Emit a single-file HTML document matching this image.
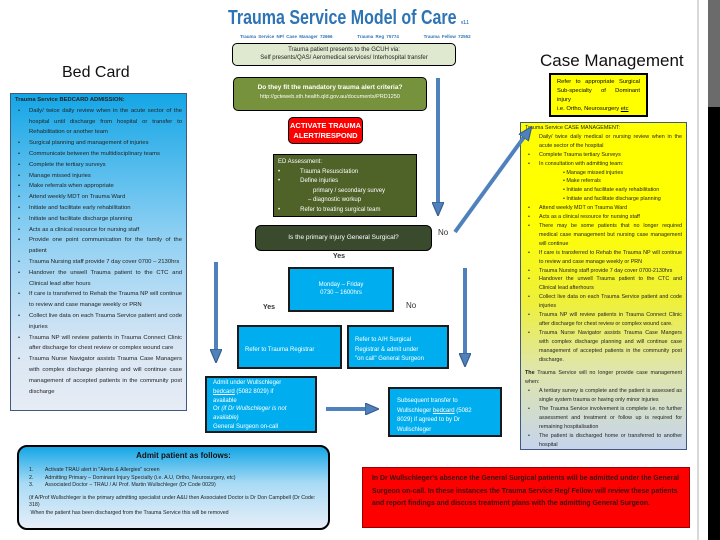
<!DOCTYPE html>
<html><head><meta charset="utf-8"><style>
*{margin:0;padding:0;box-sizing:border-box}
body{width:720px;height:540px;background:#fff;position:relative;overflow:hidden;font-family:"Liberation Sans",sans-serif}
.a{position:absolute}
.b{position:absolute;border:1.5px solid #000;font-size:6px;line-height:1.35}
.t{font-size:5.6px;line-height:8.7px;color:#222}
ul{list-style:none}
li{position:relative;padding-left:14px}
li:before{content:"•";position:absolute;left:3px}
.blue{background:#00aeef;color:#fff;border-color:#1a1a1a;border-width:2px}
</style></head><body>
<div class="a" style="left:697px;top:0;width:2px;height:540px;background:#d9d9d9"></div>
<div class="a" style="left:708px;top:0;width:12px;height:107px;background:#6b6b6b"></div>
<div class="a" style="left:708px;top:107px;width:12px;height:433px;background:#000"></div>

<div class="a" style="left:228px;top:7px;font-size:20px;font-weight:bold;color:#2e74b5;transform:scaleX(0.8);transform-origin:0 0;white-space:nowrap">Trauma Service Model of Care <span style="font-size:5px">v1.1</span></div>
<div class="a" style="left:240px;top:34px;font-size:4.5px;color:#2e74b5;font-weight:bold;word-spacing:1px">Trauma Service NP/ Case Manager 72666 &nbsp;&nbsp;&nbsp;&nbsp;&nbsp;&nbsp;&nbsp;&nbsp;&nbsp; Trauma Reg 75774 &nbsp;&nbsp;&nbsp;&nbsp;&nbsp;&nbsp;&nbsp;&nbsp;&nbsp; Trauma Fellow 72552</div>

<div class="a" style="left:62px;top:64px;font-size:16px;color:#111">Bed Card</div>
<div class="a" style="left:540px;top:51px;font-size:17px;color:#111">Case Management</div>

<div class="b" style="left:232px;top:43px;width:224px;height:23px;background:#dfe9cf;border-radius:5px;text-align:center;padding-top:2px;color:#222">Trauma patient presents to the GCUH via:<br>Self presents/QAS/ Aeromedical services/ Interhospital transfer</div>
<div class="b" style="left:233px;top:77px;width:194px;height:34px;background:#76923c;border-radius:5px;text-align:center;padding-top:6px;color:#fff;font-size:6.5px;font-weight:bold">Do they fit the mandatory trauma alert criteria?<br><span style="font-size:5.5px;font-weight:normal">http://gcteweb.sth.health.qld.gov.au/documents/PRD1250</span></div>
<div class="b" style="left:288px;top:117px;width:75px;height:27px;background:#f00;border-radius:5px;text-align:center;padding-top:3px;color:#fff;font-size:7.5px;font-weight:bold;line-height:9.5px">ACTIVATE TRAUMA<br>ALERT/RESPOND</div>
<div class="b" style="left:273px;top:154px;width:144px;height:63px;background:#4f6228;color:#fff;padding:3px 4px;font-size:6px;line-height:9.5px">ED Assessment:<br>•&nbsp;&nbsp;&nbsp;&nbsp;&nbsp;&nbsp;&nbsp;&nbsp;&nbsp;&nbsp;&nbsp; Trauma Resuscitation<br>•&nbsp;&nbsp;&nbsp;&nbsp;&nbsp;&nbsp;&nbsp;&nbsp;&nbsp;&nbsp;&nbsp; Define injuries<br>&nbsp;&nbsp;&nbsp;&nbsp;&nbsp;&nbsp;&nbsp;&nbsp;&nbsp;&nbsp;&nbsp;&nbsp;&nbsp;&nbsp;&nbsp;&nbsp;&nbsp;&nbsp;&nbsp;&nbsp; primary / secondary survey<br>&nbsp;&nbsp;&nbsp;&nbsp;&nbsp;&nbsp;&nbsp;&nbsp;&nbsp;&nbsp;&nbsp;&nbsp;&nbsp;&nbsp;&nbsp;&nbsp;&nbsp; – diagnostic workup<br>•&nbsp;&nbsp;&nbsp;&nbsp;&nbsp;&nbsp;&nbsp;&nbsp;&nbsp;&nbsp;&nbsp; Refer to treating surgical team</div>
<div class="b" style="left:255px;top:225px;width:177px;height:26px;background:#3a4a2c;border-radius:6px;text-align:center;padding-top:8px;color:#fff;font-size:6.5px">Is the primary injury General Surgical?</div>

<div class="a" style="left:333px;top:253px;font-size:7px;font-weight:bold;color:#333">Yes</div>
<div class="a" style="left:438px;top:228px;font-size:8px;color:#333">No</div>
<div class="a" style="left:263px;top:304px;font-size:7px;font-weight:bold;color:#333">Yes</div>
<div class="a" style="left:406px;top:301px;font-size:8px;color:#333">No</div>

<div class="b blue" style="left:288px;top:267px;width:106px;height:45px;text-align:center;padding-top:12px;font-size:6px">Monday – Friday<br>0730 – 1600hrs</div>
<div class="b blue" style="left:237px;top:325px;width:105px;height:44px;padding:19px 0 0 6px;font-size:6px">Refer to Trauma Registrar</div>
<div class="b blue" style="left:347px;top:325px;width:102px;height:44px;padding:9px 0 0 6px;font-size:6px;line-height:9.5px">Refer to A/H Surgical<br>Registrar &amp; admit under<br>"on call" General Surgeon</div>
<div class="b blue" style="left:205px;top:376px;width:112px;height:57px;padding:1px 0 0 6px;font-size:6px;line-height:8.8px">Admit under Wullschleger<br><u>bedcard</u> (5082 8029) if<br>available<br>Or <i>(if Dr Wullschleger is not<br>available)</i><br>General Surgeon on-call</div>
<div class="b blue" style="left:388px;top:387px;width:114px;height:50px;padding:8px 0 0 7px;font-size:6px;line-height:9.5px">Subsequent transfer to<br>Wullschleger <u>bedcard</u> (5082<br>8029) if agreed to by Dr<br>Wullschleger</div>

<!-- Left box -->
<div class="b t" style="left:10px;top:93px;width:177px;height:318px;border:1.5px solid #41597a;background:linear-gradient(#14a6e6,#8fd0f3 45%,#d8e6f4 80%,#e6ecf5);padding:1px 4px;text-align:justify;font-size:5.9px;line-height:10.8px">
<b style="font-size:5.8px">Trauma Service BEDCARD ADMISSION:</b>
<ul>
<li>Daily/ twice daily review when in the acute sector of the hospital until discharge from hospital or transfer to Rehabilitation or another team</li>
<li>Surgical planning and management of injuries</li>
<li>Communicate between the multidisciplinary teams</li>
<li>Complete the tertiary surveys</li>
<li>Manage missed injuries</li>
<li>Make referrals when appropriate</li>
<li>Attend weekly MDT on Trauma Ward</li>
<li>Initiate and facilitate early rehabilitation</li>
<li>Initiate and facilitate discharge planning</li>
<li>Acts as a clinical resource for nursing staff</li>
<li>Provide one point communication for the family of the patient</li>
<li>Trauma Nursing staff provide 7 day cover 0700 – 2130hrs</li>
<li>Handover the unwell Trauma patient to the CTC and Clinical lead after hours</li>
<li>If care is transferred to Rehab the Trauma NP will continue to review and case manage weekly or PRN</li>
<li>Collect live data on each Trauma Service patient and code injuries</li>
<li>Trauma NP will review patients in Trauma Connect Clinic after discharge for chest review or complex wound care</li>
<li>Trauma Nurse Navigator assists Trauma Case Managers with complex discharge planning and will continue case management of accepted patients in the community post discharge</li>
</ul></div>

<!-- Case management boxes -->
<div class="b" style="left:549px;top:73px;width:99px;height:44px;background:#ff0;border:2px solid #000;padding:3px 6px;font-size:5.8px;line-height:9px;text-align:justify">Refer to appropriate Surgical Sub-specialty of Dominant injury<br>i.e. Ortho, Neurosurgery <u>etc</u></div>
<div class="b t" style="left:520px;top:122px;width:167px;height:328px;border:1.5px solid #41597a;background:linear-gradient(#ff0,#ff0 30%,#eef03a 55%,#dfe6a8 75%,#c6d4ec 100%);padding:1px 4px;text-align:justify;font-size:5.4px;line-height:8.9px">
Trauma Service CASE MANAGEMENT:
<ul>
<li>Daily/ twice daily medical or nursing review when in the acute sector of the hospital</li>
<li>Complete Trauma tertiary Surveys</li>
<li>In consultation with admitting team:<div style="padding-left:24px">• Manage missed injuries<br>• Make referrals<br>• Initiate and facilitate early rehabilitation<br>• Initiate and facilitate discharge planning</div></li>
<li>Attend weekly MDT on Trauma Ward</li>
<li>Acts as a clinical resource for nursing staff</li>
<li>There may be some patients that no longer required medical case management but nursing case management will continue</li>
<li>If care is transferred to Rehab the Trauma NP will continue to review and case manage weekly or PRN</li>
<li>Trauma Nursing staff provide 7 day cover 0700-2130hrs</li>
<li>Handover the unwell Trauma patient to the CTC and Clinical lead afterhours</li>
<li>Collect live data on each Trauma Service patient and code injuries</li>
<li>Trauma NP will review patients in Trauma Connect Clinic after discharge for chest review or complex wound care.</li>
<li>Trauma Nurse Navigator assists Trauma Case Mangers with complex discharge planning and will continue case management of accepted patients in the community post discharge.</li>
</ul>
<div style="margin-top:5px"><b>The</b> Trauma Service will no longer provide case management when:</div>
<ul>
<li>A tertiary survey is complete and the patient is assessed as single system trauma or having only minor injuries</li>
<li>The Trauma Service involvement is complete i.e. no further assessment and treatment or follow up is required for remaining hospitalisation</li>
<li>The patient is discharged home or transferred to another hospital</li>
</ul></div>

<!-- Admit patient -->
<div class="b" style="left:17px;top:445px;width:313px;height:85px;border:2px solid #000;border-radius:10px;background:linear-gradient(#14a6e6,#a9dbf5 45%,#e6eef8);padding:3px 10px;font-size:5.3px;line-height:7.6px;color:#222">
<div style="text-align:center;font-size:8px;font-weight:bold;line-height:11px;color:#111;padding-left:20px">Admit patient as follows:</div>
<div style="margin-top:6px">1.&nbsp;&nbsp;&nbsp;&nbsp;&nbsp;&nbsp;&nbsp; Activate TRAU alert in "Alerts &amp; Allergies" screen<br>2.&nbsp;&nbsp;&nbsp;&nbsp;&nbsp;&nbsp;&nbsp; Admitting Primary – Dominant Injury Specialty (i.e. A.U, Ortho, Neurosurgery, etc)<br>3.&nbsp;&nbsp;&nbsp;&nbsp;&nbsp;&nbsp;&nbsp; Associated Doctor – TRAU / A/ Prof. Martin Wullschleger (Dr Code 0029)</div>
<div style="margin-top:5px">(if A/Prof Wullschleger is the primary admitting specialist under A&amp;U then Associated Doctor is Dr Don Campbell (Dr Code: 318)<br>&nbsp;When the patient has been discharged from the Trauma Service this will be removed</div></div>

<div class="b" style="left:362px;top:467px;width:328px;height:61px;background:#f00;border:1px solid #900;padding:5px 9px;font-size:6.9px;line-height:12.5px;color:#3a1010;font-weight:bold">In Dr Wullschleger's absence the General Surgical patients will be admitted under the General Surgeon on-call. In these instances the Trauma Service Reg/ Fellow will review these patients and report findings and discuss treatment plans with the admitting General Surgeon.</div>

<!-- arrows -->
<svg class="a" style="left:0;top:0" width="720" height="540">
<defs><marker id="m" markerWidth="3.5" markerHeight="3" refX="1.5" refY="1.5" orient="auto" markerUnits="strokeWidth"><path d="M0,0 L3.5,1.5 L0,3 z" fill="#4f81bd" stroke="#385d8a" stroke-width="0.3"/></marker></defs>
<g stroke="#4f81bd" stroke-width="4" fill="none">
<line x1="438" y1="78" x2="438" y2="208" marker-end="url(#m)"/>
<line x1="455" y1="232" x2="527" y2="133" marker-end="url(#m)"/>
<line x1="216" y1="262" x2="216" y2="355" marker-end="url(#m)"/>
<line x1="465" y1="268" x2="465" y2="359" marker-end="url(#m)"/>
<line x1="326" y1="409" x2="371" y2="409" marker-end="url(#m)"/>
</g></svg>
</body></html>
